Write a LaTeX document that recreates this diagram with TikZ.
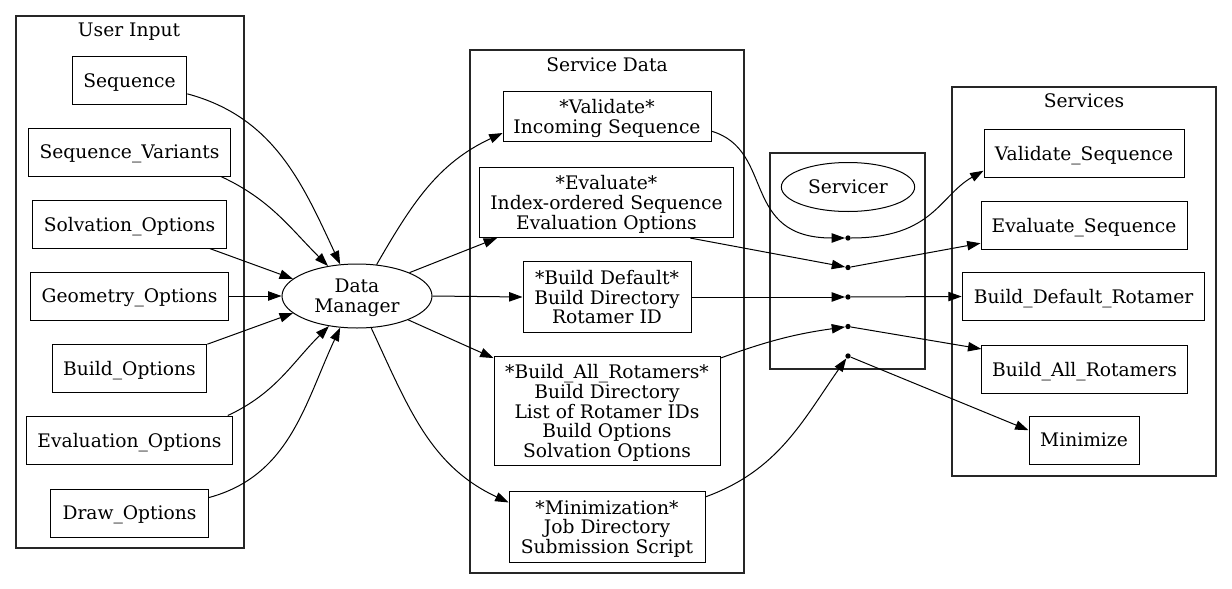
\documentclass[tikz,border=0pt]{standalone}
\usepackage{fontspec}
\setmainfont{DejaVu Serif}
\usetikzlibrary{arrows.meta,shapes.geometric}
\begin{document}
\begin{tikzpicture}[x=0.75pt,y=-0.75pt,
  font=\fontsize{14pt}{14.85pt}\selectfont,
  every node/.append style={text depth=0pt},
  box/.style={draw, line width=0.75pt, inner sep=0pt, align=center, minimum height=36pt},
  oval/.style={draw, ellipse, line width=0.75pt, inner sep=0pt, align=center},
  cluster/.style={draw=black!85, line width=1pt},
  dot/.style={circle, fill, inner sep=0pt, minimum size=4pt},
  edge/.style={line width=0.75pt, -{Triangle[length=10pt,width=7pt]}},
  lbl/.style={inner sep=0pt}
]
\fill[white] (0,0) rectangle (1232,589);
\useasboundingbox (0,0) rectangle (1232,589);

% clusters
\draw[cluster] (16,16) rectangle (244,548);
\draw[cluster] (470,50) rectangle (744,573);
\draw[cluster] (770,153) rectangle (925,369);
\draw[cluster] (952,87) rectangle (1216,476);
\node[lbl] (lui) at (129,30) {User Input};
\node[lbl] (lsd) at (607,65) {Service Data};
\node[lbl] (lsv) at (1084,101) {Services};

% user input
\node[box,minimum width=86pt] (seq) at (129.5,80.5) {Sequence};
\node[box,minimum width=152pt] (sv) at (129.5,152) {Sequence\_Variants};
\node[box,minimum width=146pt] (solv) at (129.5,224) {Solvation\_Options};
\node[box,minimum width=149pt] (geo) at (129.5,296) {Geometry\_Options};
\node[box,minimum width=116pt] (bo) at (129.5,368) {Build\_Options};
\node[box,minimum width=155pt] (eo) at (129.5,440) {Evaluation\_Options};
\node[box,minimum width=118pt] (dr) at (129.5,513) {Draw\_Options};

\node[oval, minimum width=112.5pt, minimum height=48pt] (dm) at (357,296) {Data\\Manager};

% service data
\node[box,minimum width=156pt,minimum height=37.7pt] (val) at (607,116.5) {*Validate*\\Incoming Sequence};
\node[box,minimum width=190pt,minimum height=52.6pt] (evd) at (606.5,202.5) {*Evaluate*\\Index-ordered Sequence\\Evaluation Options};
\node[box,minimum width=126pt,minimum height=52.6pt] (bd) at (607,297) {*Build Default*\\Build Directory\\Rotamer ID};
\node[box,minimum width=169.5pt,minimum height=82.3pt] (ba) at (607,411) {*Build\_All\_Rotamers*\\Build Directory\\List of Rotamer IDs\\Build Options\\Solvation Options};
\node[box,minimum width=147pt,minimum height=52.6pt] (mn) at (607,527) {*Minimization*\\Job Directory\\Submission Script};

% servicer
\node[oval, minimum width=100pt, minimum height=36.75pt] (sr) at (848,187) {Servicer};
\node[dot] (p1) at (848,238) {};
\node[dot] (p2) at (848,267.5) {};
\node[dot] (p3) at (848,297) {};
\node[dot] (p4) at (848,326.5) {};
\node[dot] (p5) at (848,356) {};

% services
\node[box,minimum width=150pt] (vs) at (1084,153) {Validate\_Sequence};
\node[box,minimum width=154.5pt] (es) at (1084,225) {Evaluate\_Sequence};
\node[box,minimum width=182pt] (bdr) at (1083.5,296.5) {Build\_Default\_Rotamer};
\node[box,minimum width=154pt] (bar) at (1084.5,369) {Build\_All\_Rotamers};
\node[box,minimum width=82.5pt] (mz) at (1084,440) {Minimize};

% user input -> data manager
\draw[edge] (seq.-13) to[out=-15,in=115] (dm.118);
\draw[edge] (sv.-15) to[out=-25,in=135] (dm.134);
\draw[edge] (solv.-17.2) -- (dm.165);
\draw[edge] (geo.east) -- (dm.west);
\draw[edge] (bo.17.2) -- (dm.195.5);
\draw[edge] (eo.14.85) to[out=25,in=225] (dm.227.8);
\draw[edge] (dr.11.5) to[out=15,in=245] (dm.242);

% data manager -> service data
\draw[edge] (dm.58) to[out=60,in=205] (val.189);
\draw[edge] (dm.24) -- (evd.198);
\draw[edge] (dm.east) -- (bd.west);
\draw[edge] (dm.-25) -- (ba.155);
\draw[edge] (dm.-66) to[out=-65,in=155] (mn.166);

% service data -> servicer
\draw[edge] (val.-8) .. controls +(64,19) and +(-108,0) .. (p1);
\draw[edge] (evd.-23) -- (p2);
\draw[edge] (bd.east) -- (p3);
\draw[edge] (ba.25) to[out=20,in=188] (p4);
\draw[edge] (mn.17) to[out=20,in=235] (p5);

% servicer -> services
\draw[edge] (p1) .. controls +(85,0) and +(-44,25) .. (vs.190);
\draw[edge] (p2) -- (es.190);
\draw[edge] (p3) -- (bdr.west);
\draw[edge] (p4) -- (bar.169.5);
\draw[edge] (p5) -- (mz.170.7);
\end{tikzpicture}
\end{document}
